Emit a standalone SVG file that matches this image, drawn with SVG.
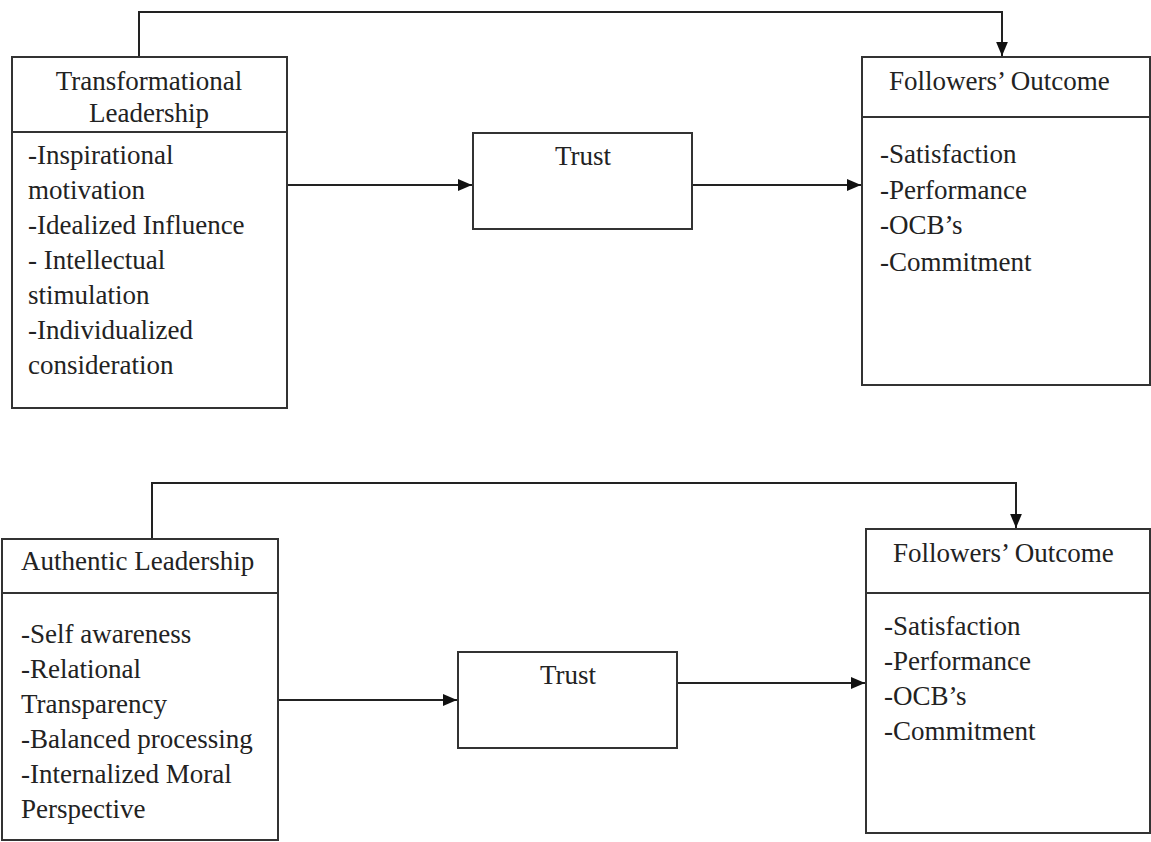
<svg xmlns="http://www.w3.org/2000/svg" width="1151" height="842" viewBox="0 0 1151 842">
<style>
.box{fill:#fff;stroke:#333;stroke-width:2}
.div{stroke:#333;stroke-width:2}
.con{fill:none;stroke:#222;stroke-width:2}
text{font-family:"Liberation Serif","Times New Roman",serif;font-size:27px;fill:#222}
.c{text-anchor:middle}
</style>
<defs>
<marker id="ah2" viewBox="0 0 10 10" refX="10" refY="5" markerWidth="14" markerHeight="14" markerUnits="userSpaceOnUse" orient="auto">
<path d="M0,0.8 L10,5 L0,9.2 z" fill="#111"/>
</marker>
</defs>
<rect width="1151" height="842" fill="#fff"/>

<g id="connectors">
<path class="con" d="M139,57 V12 H1002 V56" marker-end="url(#ah2)"/>
<path class="con" d="M287,185 H472" marker-end="url(#ah2)"/>
<path class="con" d="M692,185 H861" marker-end="url(#ah2)"/>
<path class="con" d="M152,539 V483 H1016 V528" marker-end="url(#ah2)"/>
<path class="con" d="M278,700 H457" marker-end="url(#ah2)"/>
<path class="con" d="M677,683 H865" marker-end="url(#ah2)"/>
</g>

<g id="transformational">
<rect class="box" x="12" y="57" width="275" height="351"/>
<line class="div" x1="12" y1="132" x2="287" y2="132"/>
<text class="c" x="149" y="90">Transformational</text>
<text class="c" x="149" y="122">Leadership</text>
<text x="28" y="164">-Inspirational</text>
<text x="28" y="199">motivation</text>
<text x="28" y="234">-Idealized Influence</text>
<text x="28" y="269">- Intellectual</text>
<text x="28" y="304">stimulation</text>
<text x="28" y="339">-Individualized</text>
<text x="28" y="374">consideration</text>
</g>

<g id="trust1">
<rect class="box" x="473" y="133" width="219" height="96"/>
<text class="c" x="583" y="165">Trust</text>
</g>

<g id="outcome1">
<rect class="box" x="862" y="57" width="288" height="328"/>
<line class="div" x1="862" y1="117" x2="1150" y2="117"/>
<text x="889" y="90">Followers’ Outcome</text>
<text x="880" y="163">-Satisfaction</text>
<text x="880" y="199">-Performance</text>
<text x="880" y="234">-OCB’s</text>
<text x="880" y="271">-Commitment</text>
</g>

<g id="authentic">
<rect class="box" x="2" y="539" width="276" height="301"/>
<line class="div" x1="2" y1="593" x2="278" y2="593"/>
<text x="21" y="570">Authentic Leadership</text>
<text x="21" y="643">-Self awareness</text>
<text x="21" y="678">-Relational</text>
<text x="21" y="713">Transparency</text>
<text x="21" y="748">-Balanced processing</text>
<text x="21" y="783">-Internalized Moral</text>
<text x="21" y="818">Perspective</text>
</g>

<g id="trust2">
<rect class="box" x="458" y="652" width="219" height="96"/>
<text class="c" x="568" y="684">Trust</text>
</g>

<g id="outcome2">
<rect class="box" x="866" y="529" width="284" height="304"/>
<line class="div" x1="866" y1="593" x2="1150" y2="593"/>
<text x="893" y="562">Followers’ Outcome</text>
<text x="884" y="635">-Satisfaction</text>
<text x="884" y="670">-Performance</text>
<text x="884" y="705">-OCB’s</text>
<text x="884" y="740">-Commitment</text>
</g>
</svg>
